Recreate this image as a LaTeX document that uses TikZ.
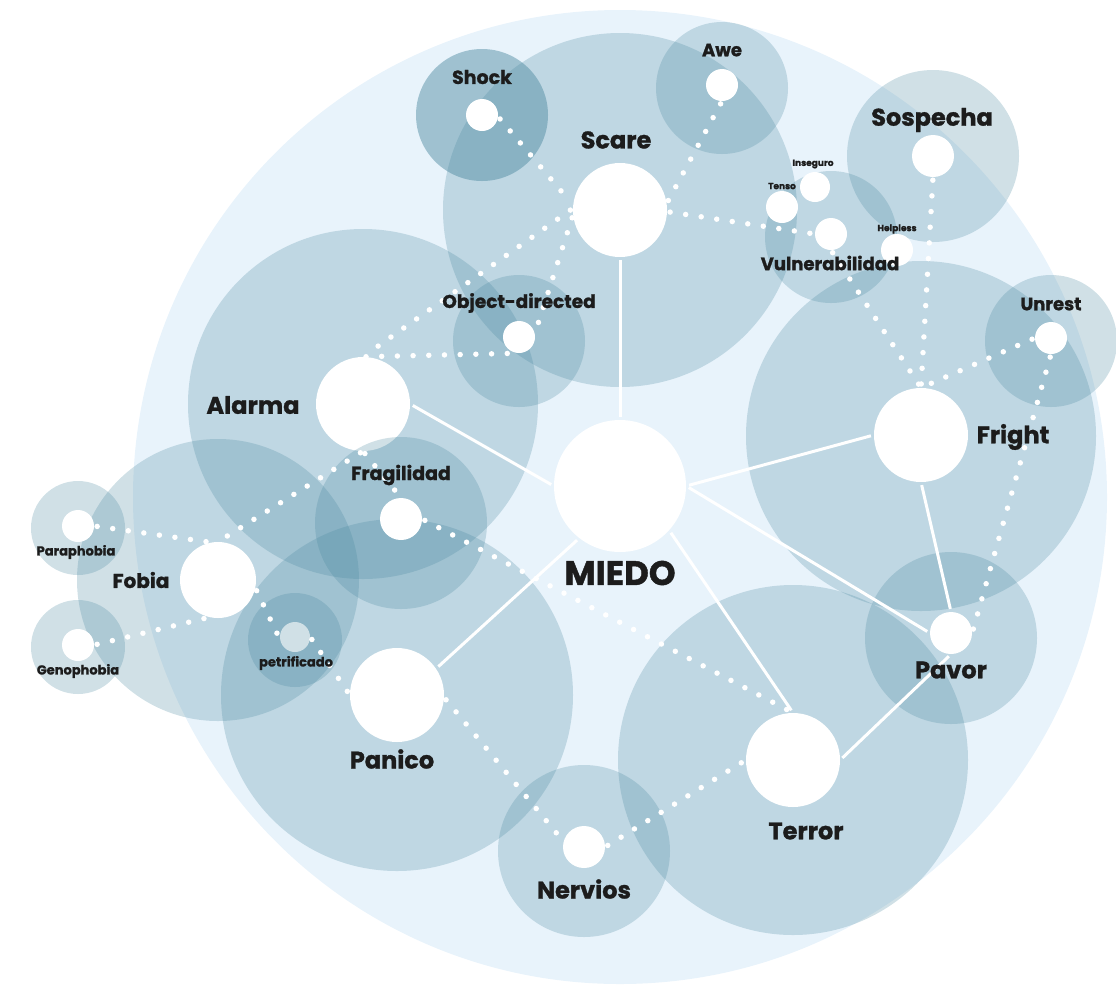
\documentclass[tikz,border=0pt]{standalone}
\usepackage{fontspec}
\setmainfont{Poppins}[BoldFeatures={FakeBold=1.2}]
\definecolor{bgc}{HTML}{E8F3FB}
\definecolor{cc}{HTML}{4A889F}
\definecolor{txt}{HTML}{1C1C1C}
\begin{document}
\begin{tikzpicture}[x=1pt,y=-1pt,
  zone/.style={circle, fill=cc, fill opacity=0.26, draw=none, inner sep=0pt, minimum size=#1},
  wn/.style={circle, fill=white, draw=none, inner sep=0pt, minimum size=#1},
  lab/.style={text=txt, font=\bfseries\fontsize{#1}{#1}\selectfont, inner sep=0pt},
  dotl/.style={draw=white, line width=5.5pt, dash pattern=on 0pt off 15.7pt, line cap=round, shorten <=3pt, shorten >=3pt},
  sol/.style={draw=white, line width=3pt, shorten <=3pt, shorten >=3pt}]
\useasboundingbox (0,0) rectangle (1116,989);
% background
\node[circle, fill=bgc, inner sep=0pt, minimum size=974pt] (bg) at (620,497) {};
% zones
\node[zone=354pt] (zscare) at (620,210) {};
\node[zone=132pt, fill opacity=0.46] (zshock) at (482,115) {};
\node[zone=132pt] (zawe) at (722,88) {};
\node[zone=132pt] (zvuln) at (831,237) {};
\node[zone=172pt] (zsosp) at (933,156) {};
\node[zone=350pt] (zfright) at (921,436) {};
\node[zone=132pt] (zunrest) at (1051,341) {};
\node[zone=172pt] (zpavor) at (951,638) {};
\node[zone=350pt] (zterror) at (793,760) {};
\node[zone=172pt] (znerv) at (584,851) {};
\node[zone=132pt] (zobj) at (519,341) {};
\node[zone=350pt] (zalarma) at (363,404) {};
\node[wn=94pt] (alarma) at (363,404) {};
\node[zone=172pt] (zfrag) at (401,523) {};
\node[zone=282pt] (zfobia) at (218,580) {};
\node[zone=94pt] (zpara) at (78,528) {};
\node[zone=94pt] (zgeno) at (78,647) {};
\node[zone=94pt] (zpetr) at (295,640) {};
\node[wn=30pt] (petr) at (295,637) {};
\node[zone=352pt] (zpanico) at (397,695) {};
% white nodes
\node[wn=132pt] (miedo) at (620,486) {};
\node[wn=94pt] (scare) at (620,210) {};
\node[wn=32pt] (shock) at (482,115) {};
\node[wn=32pt] (awe) at (722,85) {};
\node[wn=32pt] (tenso) at (782,207) {};
\node[wn=30pt] (inseg) at (815,187) {};
\node[wn=32pt] (vm) at (831,234) {};
\node[wn=32pt] (help) at (897,250) {};
\node[wn=42pt] (sosp) at (933,156) {};
\node[wn=94pt] (fright) at (921,435) {};
\node[wn=32pt] (unrest) at (1051,338) {};
\node[wn=42pt] (pavor) at (951,633) {};
\node[wn=94pt] (terror) at (793,760) {};
\node[wn=42pt] (nerv) at (584,847) {};
\node[wn=94pt] (panico) at (397,695) {};
\node[wn=76pt] (fobia) at (218,580) {};
\node[wn=32pt] (para) at (78,526) {};
\node[wn=32pt] (geno) at (78,645) {};
\node[wn=42pt] (frag) at (401,519) {};
\node[wn=32pt] (obj) at (519,337) {};
% solid connectors
\draw[sol] (scare) -- (miedo);
\draw[sol] (alarma.east) -- (miedo.west);
\draw[sol] (miedo.east) -- (fright.west);
\draw[sol] (miedo.east) -- (pavor.west);
\draw[sol] (miedo.-42) -- (terror.north);
\draw[sol] (miedo.232) -- (panico.34);
\draw[sol] (fright.south) -- (pavor.north);
\draw[sol] (pavor.south) -- (terror.east);
% dotted connectors
\draw[dotl] (shock.-6) -- (scare.174);
\draw[dotl] (awe.south) -- (scare.8);
\draw[dotl] (scare.-2) -- (vm.west);
\draw[dotl] (scare.186) -- (obj.12);
\draw[dotl] (scare.178) -- (alarma.north);
\draw[dotl] (alarma.north) -- (obj.south);
\draw[dotl] (alarma.south) -- (fobia.north);
\draw[dotl] (alarma.south) -- (frag.north);
\draw[dotl] (para.east) -- (fobia.100);
\draw[dotl] (geno.east) -- (fobia.257);
\draw[dotl] (fobia.-12) -- (petr.190);
\draw[dotl] (petr.east) -- (panico.west);
\draw[dotl] (frag.east) -- (terror.north);
\draw[dotl] (panico.-3) -- (nerv.165);
\draw[dotl] (nerv.east) -- (terror.west);
\draw[dotl] (vm.south) -- (fright.north);
\draw[dotl] (sosp.south) -- (fright.north);
\draw[dotl] (unrest.west) -- (fright.north);
\draw[dotl] (unrest.south) -- (pavor.east);
% labels
\node[lab=34] (tmiedo) at (620,573) {MIEDO};
\node[lab=24] (tscare) at (616,140) {Scare};
\node[lab=19] (tshock) at (482,77) {Shock};
\node[lab=18] (tawe) at (722,50) {Awe};
\node[lab=9] (tinseg) at (813,164) {Inseguro};
\node[lab=9] (ttenso) at (782,186) {Tenso};
\node[lab=9] (thelp) at (897,229) {Helpless};
\node[lab=18] (tvuln) at (830,263) {Vulnerabilidad};
\node[lab=24] (tsosp) at (932,120) {Sospecha};
\node[lab=18.5] (tobj) at (519,303) {Object-directed};
\node[lab=18] (tunrest) at (1051,304) {Unrest};
\node[lab=24] (tfright) at (1013,437) {Fright};
\node[lab=24] (talarma) at (253,405) {Alarma};
\node[lab=19] (tfrag) at (401,475) {Fragilidad};
\node[lab=13] (tpara) at (76,552) {Paraphobia};
\node[lab=20] (tfobia) at (141,580) {Fobia};
\node[lab=13] (tgeno) at (78,671) {Genophobia};
\node[lab=13] (tpetr) at (296,663) {petrificado};
\node[lab=24] (tpanico) at (392,759) {Panico};
\node[lab=24] (tpavor) at (951,670) {Pavor};
\node[lab=24] (tterror) at (806,831) {Terror};
\node[lab=24] (tnerv) at (584,889) {Nervios};
\end{tikzpicture}
\end{document}
